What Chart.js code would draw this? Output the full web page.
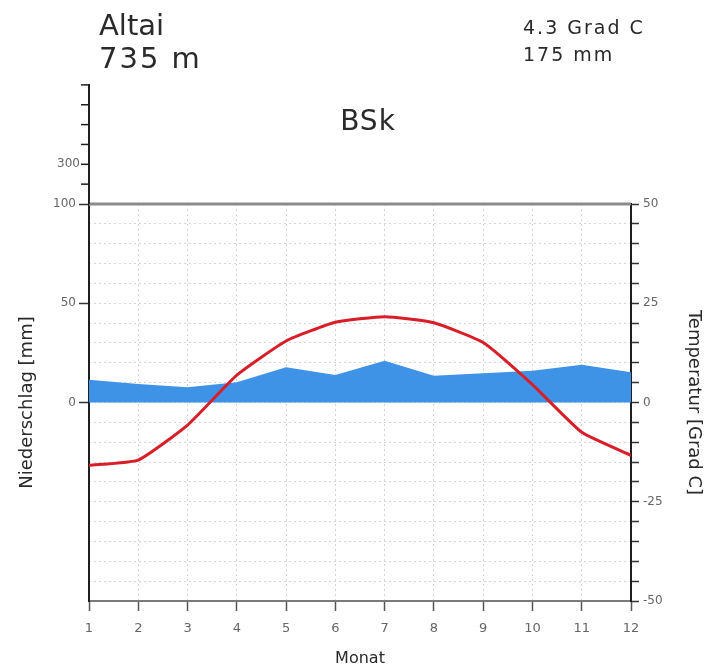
<!DOCTYPE html>
<html>
<head>
<meta charset="utf-8">
<script src="https://cdn.jsdelivr.net/npm/chart.js@4"></script>
<style>
  html, body { margin: 0; padding: 0; background: #fff; }
</style>
</head>
<body>
<canvas id="klima" width="706" height="668"></canvas>
<script>
const monate = [1, 2, 3, 4, 5, 6, 7, 8, 9, 10, 11, 12];
const temperatur = [-15.8, -14.5, -5.7, 6.9, 15.5, 20.2, 21.6, 20.1, 15.1, 4.5, -7.5, -13.3];
const niederschlag = [11.5, 9.3, 7.7, 10.2, 17.7, 13.8, 21.0, 13.5, 14.7, 16.0, 19.0, 15.2];

const station = 'Altai';
const hoehe = '735 m';
const mittelTemp = '4.3 Grad C';
const summeNied = '175 mm';
const klimaTyp = 'BSk';

const tempLabels = [50, 25, 0, -25, -50];
const niedLabels = [0, 50, 100];
const niedTicksOben = [200, 300, 400, 500, 600, 700];
const niedLabelsOben = [300];

const FONT = '"DejaVu Sans", "Liberation Sans", sans-serif';

// oberer Teil der Niederschlagsachse (ab 100 mm auf 1/10 gestaucht) + Kopftexte
const klimaExtras = {
  id: 'klimaExtras',
  afterDraw(chart) {
    const { ctx, chartArea: a } = chart;
    const yP = chart.scales.yP;
    const p100 = yP.getPixelForValue(100);
    const pxMm = (yP.getPixelForValue(0) - p100) / 100;
    const oben = (v) => p100 - (v - 100) / 10 * pxMm;

    ctx.save();
    ctx.strokeStyle = '#8c8c8c';
    ctx.lineWidth = 3;
    ctx.beginPath();
    ctx.moveTo(a.left, a.top);
    ctx.lineTo(a.right, a.top);
    ctx.stroke();

    ctx.strokeStyle = '#1e1e1e';
    ctx.lineWidth = 2;
    ctx.beginPath();
    ctx.moveTo(a.left, p100);
    ctx.lineTo(a.left, oben(niedTicksOben[niedTicksOben.length - 1]) - 1);
    ctx.stroke();
    ctx.lineWidth = 1.5;
    niedTicksOben.forEach(v => {
      ctx.beginPath();
      ctx.moveTo(a.left - 8, oben(v));
      ctx.lineTo(a.left, oben(v));
      ctx.stroke();
    });
    ctx.fillStyle = '#666';
    ctx.font = '12px ' + FONT;
    ctx.textAlign = 'right';
    ctx.textBaseline = 'middle';
    niedLabelsOben.forEach(v => ctx.fillText(String(v), a.left - 9, oben(v)));

    ctx.fillStyle = '#2a2a2a';
    ctx.textAlign = 'left';
    ctx.textBaseline = 'alphabetic';
    ctx.font = '29px ' + FONT;
    ctx.fillText(station, 99, 35);
    ctx.letterSpacing = '2px';
    ctx.fillText(hoehe, 99, 68);
    ctx.font = '19px ' + FONT;
    ctx.fillText(mittelTemp, 523, 34);
    ctx.fillText(summeNied, 523, 61);
    ctx.letterSpacing = '1px';
    ctx.font = '28px ' + FONT;
    ctx.textAlign = 'center';
    ctx.fillText(klimaTyp, 368, 130);
    ctx.restore();
  }
};

new Chart(document.getElementById('klima'), {
  type: 'line',
  data: {
    labels: monate,
    datasets: [{
      label: 'Temperatur',
      data: monate.map((m, i) => ({ x: m, y: temperatur[i] })),
      yAxisID: 'yT',
      borderColor: '#d81e28',
      borderWidth: 3,
      pointRadius: 0,
      tension: 0.15,
      fill: false
    }, {
      label: 'Niederschlag',
      data: monate.map((m, i) => ({ x: m, y: niederschlag[i] })),
      yAxisID: 'yP',
      borderWidth: 0,
      borderColor: '#3f93e6',
      backgroundColor: '#3f93e6',
      pointRadius: 0,
      tension: 0,
      fill: 'origin'
    }]
  },
  options: {
    responsive: false,
    animation: false,
    layout: { padding: { top: 204, left: 0, right: 0, bottom: 0 } },
    plugins: {
      legend: { display: false },
      tooltip: { enabled: false }
    },
    scales: {
      x: {
        type: 'linear',
        min: 1,
        max: 12,
        afterFit: (s) => { s.height = 67; },
        ticks: { stepSize: 1, padding: 10, color: '#666', font: { family: FONT, size: 13 } },
        grid: { color: '#d4d4d4', tickColor: '#555', tickLength: 10, tickWidth: 1.5 },
        border: { color: '#7a7a7a', width: 2, dash: [2, 3] },
        title: { display: true, text: 'Monat', color: '#2a2a2a', padding: { top: 0, bottom: 0 }, font: { family: FONT, size: 16 } }
      },
      yP: {
        position: 'left',
        min: -100,
        max: 100,
        afterFit: (s) => { s.width = 89; },
        afterBuildTicks: (s) => { s.ticks = niedLabels.map(v => ({ value: v })); },
        ticks: { padding: 3, color: '#666', font: { family: FONT, size: 12 } },
        grid: { drawOnChartArea: false, tickColor: '#333', tickLength: 10, tickWidth: 1.5 },
        border: { color: '#1e1e1e', width: 2 },
        title: { display: true, text: 'Niederschlag [mm]', color: '#2a2a2a', padding: { top: 17, bottom: 0 }, font: { family: FONT, size: 18 } }
      },
      yT: {
        position: 'right',
        min: -50,
        max: 50,
        afterFit: (s) => { s.width = 75; },
        ticks: {
          stepSize: 5,
          padding: 4,
          color: '#666',
          font: { family: FONT, size: 12 },
          callback: (v) => tempLabels.includes(v) ? String(v) : ''
        },
        grid: { color: '#d4d4d4', tickColor: '#333', tickLength: 8, tickWidth: 1.5 },
        border: { color: '#1e1e1e', width: 2, dash: [2, 3] },
        title: { display: true, text: 'Temperatur [Grad C]', color: '#2a2a2a', padding: { top: 2, bottom: 0 }, font: { family: FONT, size: 18 } }
      }
    }
  },
  plugins: [klimaExtras]
});
</script>
</body>
</html>
